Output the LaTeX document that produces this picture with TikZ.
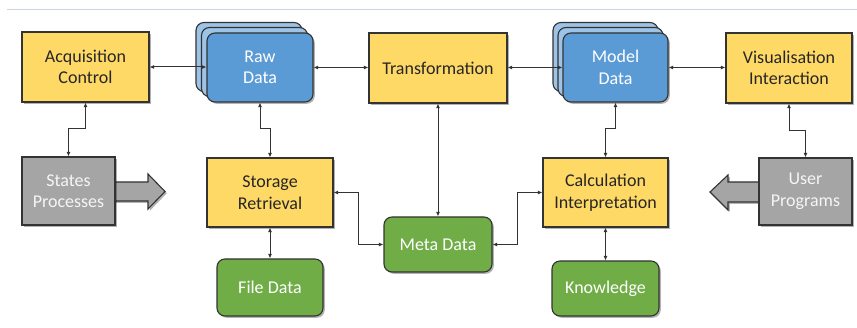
\documentclass[tikz,border=0pt]{standalone}
\usepackage{fontspec}
\setmainfont{Carlito}
\usetikzlibrary{shadows,arrows.meta}
\definecolor{cyel}{HTML}{FFD966}
\definecolor{cblue}{HTML}{5B9BD5}
\definecolor{cblueb}{HTML}{9DC3E6}
\definecolor{cgreen}{HTML}{70AD47}
\definecolor{cgray}{HTML}{A5A5A5}
\definecolor{cline}{HTML}{333333}
\definecolor{ctext}{HTML}{262626}
\definecolor{ctop}{HTML}{CAD5E0}
\tikzset{
  sh/.style={drop shadow={shadow xshift=1.8pt,shadow yshift=-1.8pt,opacity=0.3,fill=black}},
  basebox/.style={draw=cline,line width=1.1pt,align=center,inner sep=0pt,
     font=\fontsize{18}{21.5}\selectfont,sh},
  ybox/.style={basebox,fill=cyel,text=ctext},
  bbox/.style={basebox,fill=cblue,text=white,rounded corners=8pt},
  bback/.style={draw=cline,line width=1.1pt,fill=cblueb,rounded corners=8pt,inner sep=0pt,sh},
  gbox/.style={basebox,fill=cgreen,text=white,rounded corners=8pt},
  grbox/.style={basebox,fill=cgray,text=white!92!gray},
  arr/.style={draw=cline,line width=1pt,{Latex[length=4.5pt,width=4pt]}-{Latex[length=4.5pt,width=4pt]}},
  garrow/.style={draw=cline,line width=1.1pt,fill=cgray,sh}
}
\begin{document}
\begin{tikzpicture}[x=1pt,y=-1pt]
\useasboundingbox (0,0) rectangle (857,328);
\draw[ctop,line width=0.8pt] (7,9.5) -- (857,9.5);

% top row
\node[ybox,minimum width=127,minimum height=70] (acq) at (85.5,67) {Acquisition\\Control};
\node[bback,minimum width=106,minimum height=69] (rawb2) at (249,57) {};
\node[bback,minimum width=106,minimum height=69] (rawb1) at (254.5,62) {};
\node[bbox,minimum width=106,minimum height=69] (raw) at (260,67.5) {Raw\\Data};
\node[ybox,minimum width=138,minimum height=70] (trans) at (438,68) {Transformation};
\node[bback,minimum width=105,minimum height=69] (modb2) at (605.5,57) {};
\node[bback,minimum width=105,minimum height=69] (modb1) at (610.5,62) {};
\node[bbox,minimum width=105,minimum height=69] (model) at (615.5,67.5) {Model\\Data};
\node[ybox,minimum width=126,minimum height=70] (vis) at (789,68) {Visualisation\\Interaction};

% second row
\draw[garrow] (110,182) -- (148,182) -- (148,174) -- (165,191.5) -- (148,209) -- (148,201) -- (110,201) -- cycle;
\node[grbox,minimum width=93,minimum height=68] (states) at (68.5,191) {States\\Processes};
\draw[garrow] (764,182) -- (728,182) -- (728,175) -- (710,192) -- (728,210) -- (728,202) -- (764,202) -- cycle;
\node[grbox,minimum width=93,minimum height=67] (user) at (805.5,191.5) {User\\Programs};

\node[ybox,minimum width=126,minimum height=69] (stor) at (270,192.5) {Storage\\Retrieval};
\node[ybox,minimum width=125,minimum height=69] (calc) at (605.5,192.5) {Calculation\\Interpretation};
\node[gbox,minimum width=108,minimum height=55] (meta) at (438,244.5) {Meta Data};
\node[gbox,minimum width=106,minimum height=57] (file) at (270,287.5) {File Data};
\node[gbox,minimum width=107,minimum height=55] (know) at (605.5,288.5) {Knowledge};

% connectors
\draw[arr] (acq.east) -- (acq.east -| raw.west);
\draw[arr] (raw.east) -- (raw.east -| trans.west);
\draw[arr] (trans.east |- model.west) -- (model.west);
\draw[arr] (model.east) -- (model.east -| vis.west);
\draw[arr] (acq.south) -- ++(0,26) -| (states.north);
\draw[arr] (raw.south) -- ++(0,26) -| (stor.north);
\draw[arr] (model.south) -- ++(0,26) -| (calc.north);
\draw[arr] (vis.south) -- ++(0,27) -| (user.north);
\draw[arr] (trans.south) -- (meta.north);
\draw[arr] (stor.east) -- ++(25,0) |- (meta.west);
\draw[arr] (meta.east) -- ++(25,0) |- (calc.west);
\draw[arr] (stor.south) -- (file.north);
\draw[arr] (calc.south) -- (know.north);
\end{tikzpicture}
\end{document}
